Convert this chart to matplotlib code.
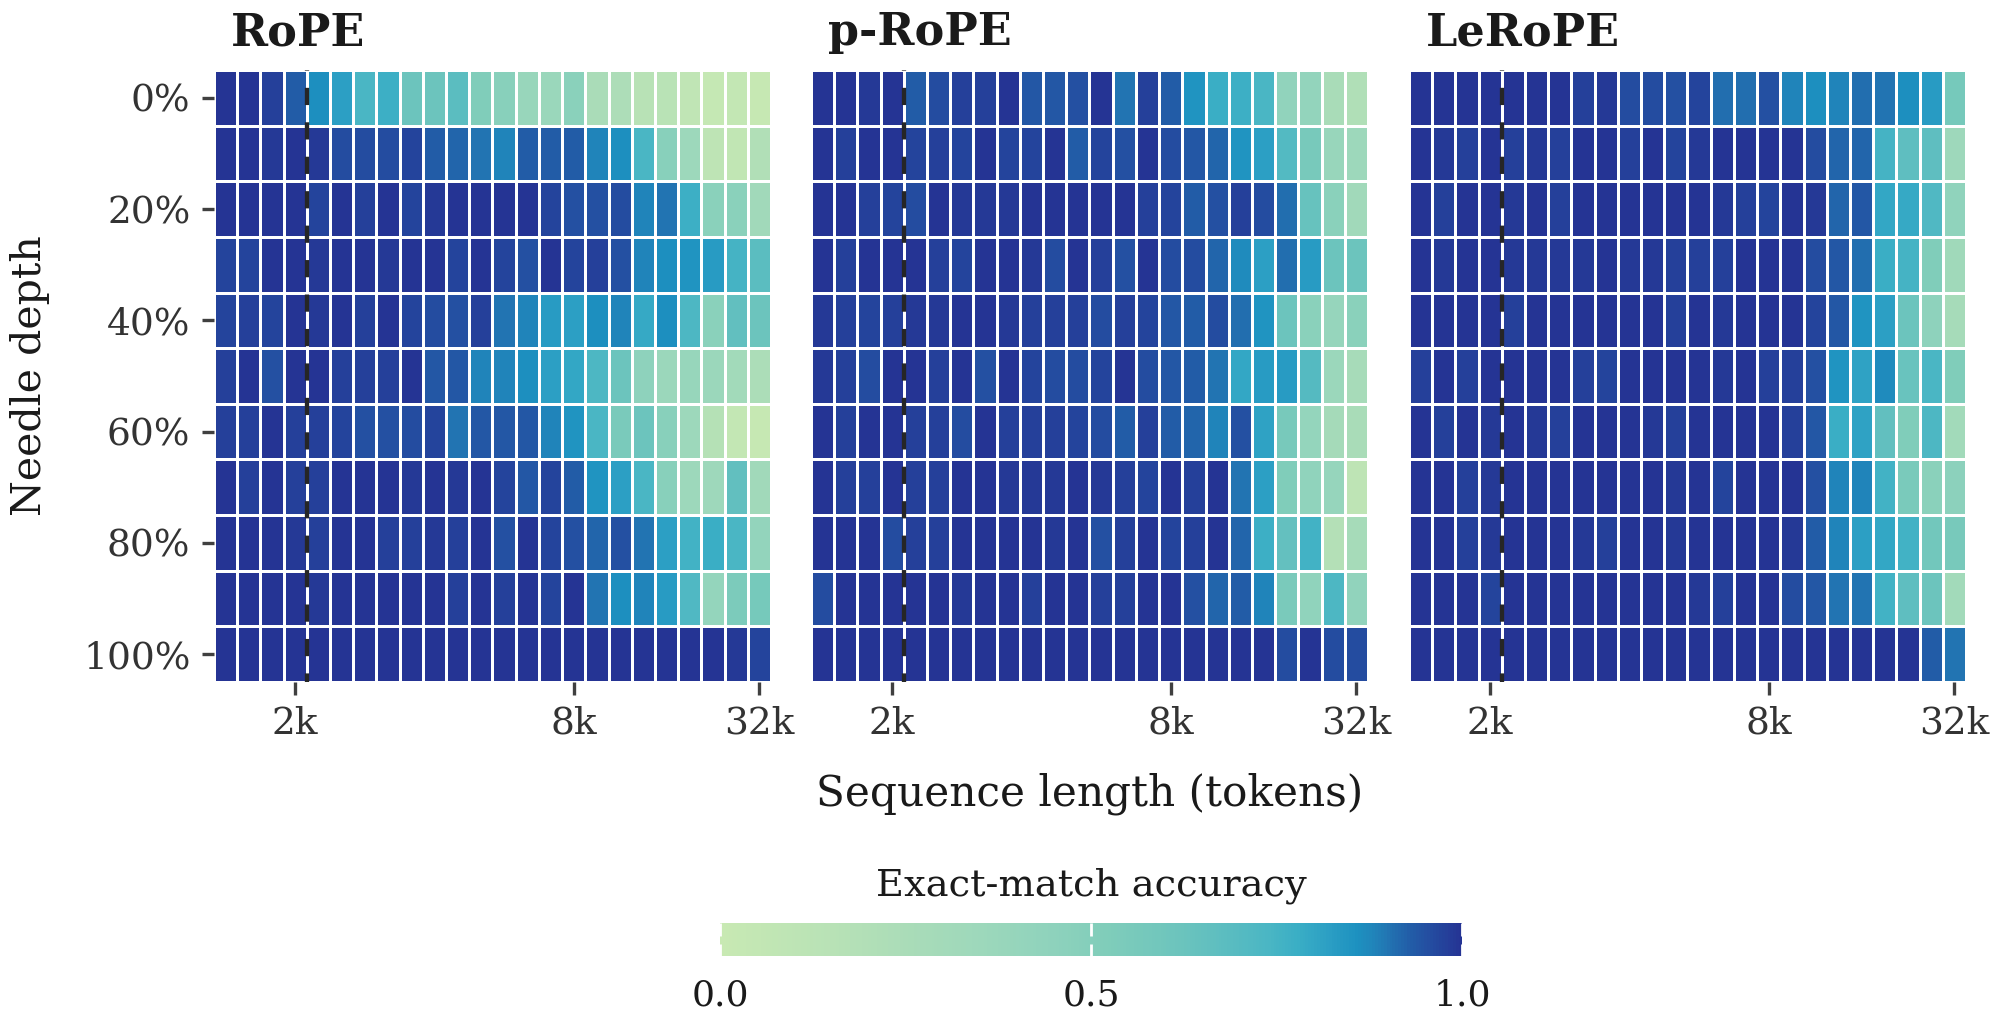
#%% importing modules
import numpy as np
import matplotlib
matplotlib.use('Agg')
import matplotlib.pyplot as plt
from matplotlib.colors import LinearSegmentedColormap

plt.rcParams['font.family'] = 'DejaVu Serif'

#%% data
seq_lengths = [512, 1024, 1536, 2048, 2560, 3072, 3584, 4096, 4608, 5120, 5632, 6144,
               6656, 7168, 7680, 8192, 11264, 14336, 17408, 20480, 23552, 26624, 29696, 32768]
depths = [0, 10, 20, 30, 40, 50, 60, 70, 80, 90, 100]
train_len = 2048

xtick_lengths = [2048, 8192, 32768]
xtick_labels = ['2k', '8k', '32k']
ytick_depths = [0, 20, 40, 60, 80, 100]
ytick_labels = ['0%', '20%', '40%', '60%', '80%', '100%']

model_names = ['RoPE', 'p-RoPE', 'LeRoPE']

# exact-match accuracy, rows = needle depth, cols = sequence length
rope_acc = [
    [1.00, 1.00, 0.98, 0.93, 0.86, 0.82, 0.74, 0.77, 0.62, 0.62, 0.68, 0.52, 0.48, 0.38, 0.37, 0.47, 0.25, 0.23, 0.15, 0.14, 0.08, 0.03, 0.05, 0.02],
    [1.00, 1.00, 0.99, 1.00, 0.99, 0.96, 0.96, 0.96, 0.97, 0.93, 0.92, 0.90, 0.88, 0.93, 0.93, 0.93, 0.88, 0.86, 0.74, 0.48, 0.35, 0.10, 0.07, 0.20],
    [1.00, 1.00, 1.00, 1.00, 0.97, 1.00, 0.98, 1.00, 0.97, 0.99, 1.00, 1.00, 1.00, 1.00, 0.97, 0.95, 0.95, 0.96, 0.88, 0.90, 0.77, 0.47, 0.47, 0.32],
    [0.97, 0.97, 1.00, 1.00, 0.99, 1.00, 1.00, 0.99, 1.00, 1.00, 0.97, 1.00, 0.97, 0.95, 1.00, 0.97, 0.98, 0.95, 0.88, 0.86, 0.85, 0.83, 0.75, 0.68],
    [0.97, 0.98, 0.97, 1.00, 0.99, 1.00, 0.98, 1.00, 0.97, 0.96, 0.95, 0.98, 0.90, 0.88, 0.83, 0.82, 0.86, 0.88, 0.79, 0.86, 0.73, 0.47, 0.66, 0.62],
    [0.98, 1.00, 0.95, 1.00, 1.00, 0.98, 0.98, 0.98, 1.00, 0.94, 0.94, 0.88, 0.88, 0.86, 0.82, 0.80, 0.73, 0.62, 0.45, 0.36, 0.39, 0.36, 0.31, 0.24],
    [0.98, 0.98, 1.00, 0.98, 0.98, 0.97, 0.95, 0.95, 0.96, 0.97, 0.90, 0.94, 0.94, 0.94, 0.88, 0.85, 0.74, 0.55, 0.62, 0.48, 0.35, 0.17, 0.05, 0.02],
    [1.00, 0.98, 1.00, 0.98, 0.98, 1.00, 1.00, 1.00, 0.99, 1.00, 0.99, 1.00, 0.97, 0.94, 0.97, 0.93, 0.85, 0.82, 0.74, 0.48, 0.35, 0.34, 0.66, 0.32],
    [1.00, 1.00, 1.00, 0.99, 0.98, 1.00, 1.00, 0.98, 0.98, 0.99, 0.98, 1.00, 0.95, 1.00, 0.97, 0.95, 0.92, 0.95, 0.90, 0.82, 0.76, 0.78, 0.74, 0.42],
    [1.00, 1.00, 1.00, 1.00, 0.99, 1.00, 1.00, 1.00, 1.00, 1.00, 0.98, 1.00, 0.98, 1.00, 0.97, 1.00, 0.90, 0.86, 0.88, 0.83, 0.72, 0.41, 0.54, 0.57],
    [1.00, 1.00, 1.00, 1.00, 1.00, 1.00, 1.00, 1.00, 1.00, 1.00, 1.00, 1.00, 1.00, 1.00, 1.00, 1.00, 1.00, 1.00, 1.00, 1.00, 1.00, 1.00, 0.99, 0.97],
]

prope_acc = [
    [1.00, 1.00, 0.99, 1.00, 0.93, 0.96, 0.98, 0.98, 1.00, 0.94, 0.94, 0.95, 1.00, 0.90, 0.98, 0.93, 0.85, 0.78, 0.77, 0.74, 0.43, 0.42, 0.26, 0.21],
    [1.00, 0.98, 1.00, 1.00, 0.97, 0.98, 0.97, 1.00, 0.97, 0.97, 1.00, 0.93, 0.97, 0.95, 1.00, 0.96, 0.94, 0.92, 0.85, 0.82, 0.71, 0.56, 0.38, 0.35],
    [1.00, 1.00, 0.98, 0.97, 0.96, 1.00, 0.99, 0.99, 0.99, 1.00, 1.00, 1.00, 1.00, 1.00, 0.98, 0.97, 0.93, 0.95, 0.98, 0.96, 0.91, 0.64, 0.47, 0.32],
    [1.00, 0.98, 1.00, 1.00, 1.00, 0.98, 0.97, 1.00, 1.00, 0.99, 0.96, 1.00, 0.98, 0.95, 1.00, 0.96, 0.96, 0.92, 0.87, 0.82, 0.91, 0.83, 0.62, 0.62],
    [0.99, 0.98, 0.97, 0.98, 0.99, 0.99, 1.00, 1.00, 0.99, 0.98, 0.98, 0.98, 0.96, 0.98, 0.97, 0.94, 0.93, 0.96, 0.91, 0.85, 0.62, 0.47, 0.40, 0.47],
    [0.99, 0.98, 0.96, 1.00, 1.00, 0.98, 1.00, 0.95, 1.00, 0.97, 0.96, 0.96, 0.97, 1.00, 0.96, 0.94, 0.93, 0.90, 0.80, 0.83, 0.83, 0.70, 0.36, 0.27],
    [1.00, 0.98, 1.00, 1.00, 0.98, 0.98, 0.96, 1.00, 0.98, 0.98, 0.98, 0.97, 0.96, 0.93, 0.98, 0.93, 0.92, 0.88, 0.95, 0.81, 0.56, 0.41, 0.29, 0.26],
    [1.00, 0.98, 0.98, 1.00, 0.98, 0.98, 1.00, 1.00, 0.99, 0.99, 0.99, 1.00, 0.99, 0.98, 0.97, 1.00, 0.98, 1.00, 0.90, 0.82, 0.52, 0.44, 0.40, 0.10],
    [1.00, 1.00, 1.00, 0.96, 0.98, 0.98, 1.00, 1.00, 1.00, 1.00, 0.99, 1.00, 0.95, 0.98, 1.00, 0.97, 0.98, 1.00, 0.92, 0.77, 0.65, 0.76, 0.18, 0.28],
    [0.96, 1.00, 1.00, 1.00, 1.00, 1.00, 0.99, 1.00, 1.00, 0.98, 1.00, 1.00, 0.98, 0.98, 1.00, 1.00, 0.95, 0.92, 0.93, 0.88, 0.55, 0.44, 0.73, 0.43],
    [1.00, 1.00, 1.00, 1.00, 1.00, 1.00, 1.00, 1.00, 1.00, 1.00, 1.00, 1.00, 1.00, 1.00, 1.00, 1.00, 1.00, 1.00, 1.00, 1.00, 0.96, 1.00, 0.96, 0.96],
]

lerope_acc = [
    [1.00, 1.00, 1.00, 1.00, 1.00, 1.00, 1.00, 0.98, 0.99, 0.96, 0.96, 0.95, 0.97, 0.91, 0.91, 0.95, 0.88, 0.86, 0.88, 0.91, 0.90, 0.86, 0.83, 0.57],
    [1.00, 0.99, 0.98, 1.00, 0.98, 0.99, 0.98, 1.00, 1.00, 0.98, 1.00, 0.97, 0.99, 1.00, 1.00, 1.00, 1.00, 0.96, 0.92, 0.92, 0.75, 0.67, 0.67, 0.34],
    [1.00, 0.98, 1.00, 1.00, 0.99, 1.00, 0.98, 1.00, 1.00, 1.00, 1.00, 1.00, 1.00, 0.99, 0.98, 0.97, 1.00, 0.99, 0.92, 0.94, 0.80, 0.79, 0.72, 0.44],
    [1.00, 0.99, 1.00, 1.00, 0.99, 0.99, 0.99, 0.99, 1.00, 0.99, 0.99, 0.98, 0.98, 0.98, 1.00, 1.00, 1.00, 0.96, 0.94, 0.91, 0.78, 0.75, 0.52, 0.33],
    [1.00, 1.00, 1.00, 1.00, 0.98, 1.00, 1.00, 1.00, 1.00, 1.00, 1.00, 0.98, 1.00, 0.99, 1.00, 1.00, 1.00, 0.97, 0.94, 0.85, 0.82, 0.62, 0.45, 0.28],
    [0.98, 1.00, 0.98, 1.00, 1.00, 1.00, 1.00, 0.98, 0.97, 1.00, 1.00, 1.00, 1.00, 0.99, 1.00, 0.98, 0.98, 0.95, 0.85, 0.81, 0.87, 0.63, 0.74, 0.52],
    [1.00, 0.98, 1.00, 0.99, 1.00, 0.99, 0.98, 1.00, 1.00, 1.00, 0.99, 0.98, 1.00, 1.00, 1.00, 1.00, 0.98, 0.94, 0.78, 0.81, 0.66, 0.52, 0.73, 0.31],
    [1.00, 1.00, 0.98, 0.99, 1.00, 1.00, 1.00, 1.00, 1.00, 1.00, 1.00, 0.99, 1.00, 0.97, 1.00, 1.00, 1.00, 0.95, 0.88, 0.88, 0.76, 0.55, 0.47, 0.46],
    [1.00, 1.00, 0.98, 0.99, 1.00, 1.00, 1.00, 0.99, 0.98, 1.00, 1.00, 0.99, 1.00, 1.00, 1.00, 1.00, 0.99, 0.93, 0.88, 0.82, 0.80, 0.76, 0.59, 0.56],
    [1.00, 1.00, 1.00, 0.97, 1.00, 1.00, 1.00, 1.00, 1.00, 1.00, 1.00, 1.00, 0.99, 0.98, 1.00, 1.00, 0.96, 0.94, 0.90, 0.90, 0.76, 0.67, 0.62, 0.31],
    [1.00, 1.00, 1.00, 1.00, 1.00, 1.00, 1.00, 1.00, 1.00, 1.00, 1.00, 1.00, 1.00, 1.00, 1.00, 1.00, 1.00, 1.00, 1.00, 1.00, 1.00, 1.00, 0.93, 0.90],
]

#%% colormap (light green -> teal -> navy)
cmap_nodes = [0.0, 0.15, 0.25, 0.35, 0.45, 0.52, 0.62, 0.68, 0.74, 0.78, 0.82, 0.86, 0.88, 0.90, 0.93, 0.96, 1.0]
cmap_colors = ['#c8e9b3', '#b8e2b6', '#aadcb8', '#9dd8bb', '#8ed2bc', '#80cdba', '#6cc4bd', '#5cbdc0',
               '#4ab6c4', '#3aaec5', '#2c9fc4', '#1d91c0', '#2086bb', '#2276b3', '#225ea8', '#244ca0', '#253494']
cmap = LinearSegmentedColormap.from_list('acc', list(zip(cmap_nodes, cmap_colors)))

#%% figure
W, H = 1999, 1015
fig = plt.figure(figsize=(W / 200, H / 200), dpi=200)

ax_left = [214, 811, 1409]
ax_w, ax_top, ax_bot = 557, 70, 682

axes = []
for left in ax_left:
    axes.append(fig.add_axes([left / W, 1 - ax_bot / H, ax_w / W, (ax_bot - ax_top) / H]))

for ax, name, acc in zip(axes, model_names, [rope_acc, prope_acc, lerope_acc]):
    mesh = ax.pcolormesh(np.asarray(acc), cmap=cmap, vmin=0, vmax=1,
                         edgecolors='white', linewidth=1.0)
    ax.set_xlim(0, len(seq_lengths))
    ax.set_ylim(len(depths), 0)

    # training length marker
    ax.axvline(seq_lengths.index(train_len) + 1, color='#262626', lw=1.55,
               linestyle=(2, (4, 4)))

    ax.set_xticks([seq_lengths.index(l) + 0.5 for l in xtick_lengths])
    ax.set_xticklabels(xtick_labels)
    ax.set_yticks([depths.index(d) + 0.5 for d in ytick_depths])
    ax.set_yticklabels(ytick_labels)
    ax.tick_params(length=4.5, width=1.2, color='0.25', labelcolor='0.2', labelsize=13.5, pad=4)
    for s in ax.spines.values():
        s.set_visible(False)

    ax.text(17 / ax_w, 1 + 25 / (ax_bot - ax_top), name, transform=ax.transAxes,
            fontsize=16, fontweight='bold', color='0.1', ha='left', va='baseline')

for ax in axes[1:]:
    ax.tick_params(left=False, labelleft=False)

axes[0].set_ylabel('Needle depth', fontsize=14.8, color='0.1', labelpad=12)
axes[1].set_xlabel('Sequence length (tokens)', fontsize=15.2, color='0.1', labelpad=11)

#%% colorbar
cax = fig.add_axes([720 / W, 1 - 956 / H, 742 / W, 33 / H])
cb = fig.colorbar(mesh, cax=cax, orientation='horizontal', ticks=[0, 0.5, 1])
cb.outline.set_visible(False)
cax.tick_params(axis='x', direction='in', color='white', length=4.5, width=1.0,
                top=True, bottom=True, labelsize=13, labelcolor='0.1', pad=8)
cax.set_xticklabels(['0.0', '0.5', '1.0'])
cax.set_title('Exact-match accuracy', fontsize=13.8, color='0.1', pad=10)

fig.savefig('out.png', dpi=200)
